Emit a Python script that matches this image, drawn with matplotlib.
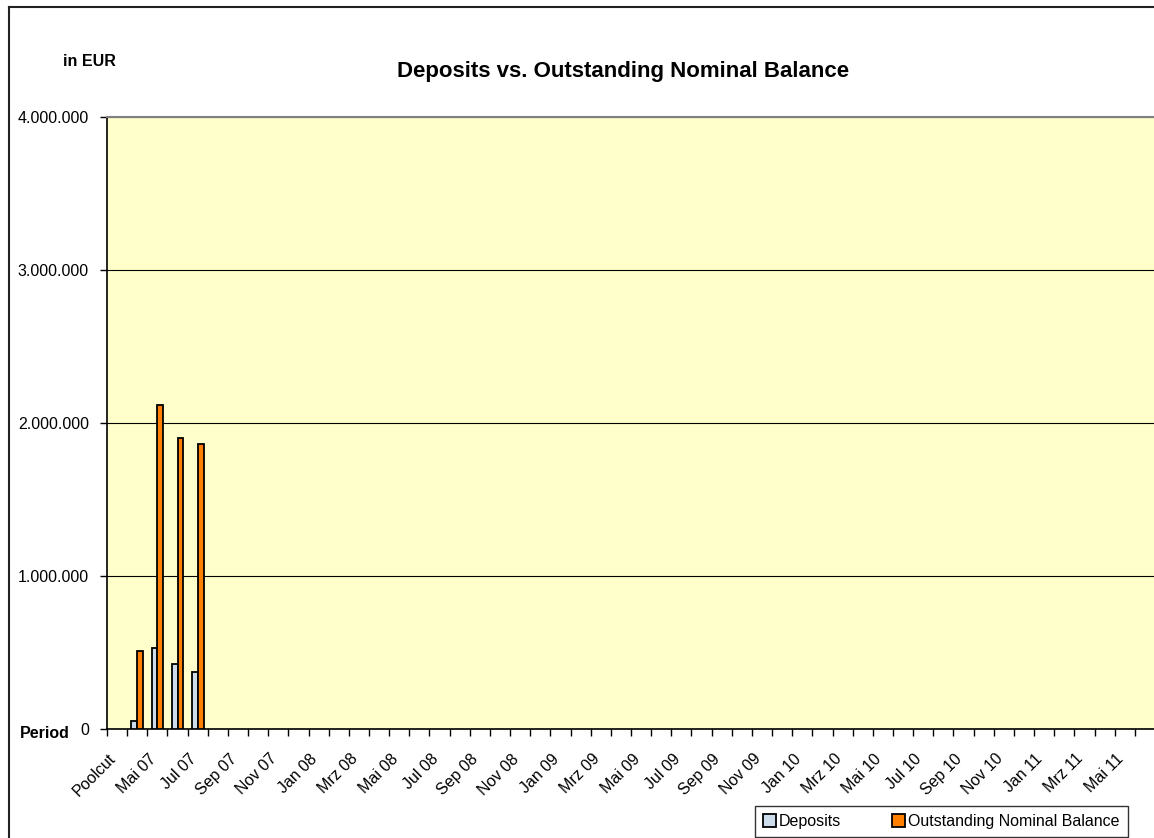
import matplotlib.pyplot as plt
import matplotlib.transforms as mtransforms
import numpy as np
from matplotlib.lines import Line2D
from matplotlib.ticker import FixedLocator, FuncFormatter

plt.rcParams['font.family'] = ['Liberation Sans', 'DejaVu Sans']

# Monthly periods: Poolcut, Apr 07 ... Jun 11
months = ['Jan', 'Feb', 'Mrz', 'Apr', 'Mai', 'Jun', 'Jul', 'Aug', 'Sep', 'Okt', 'Nov', 'Dez']
periods = ['Poolcut']
y, m = 7, 3
while len(periods) < 52:
    periods.append('%s %02d' % (months[m], y))
    m += 1
    if m == 12:
        m, y = 0, y + 1

deposits = [0, 54000, 532000, 424000, 373000]
balance = [0, 513000, 2115000, 1900000, 1866000]
deposits += [0] * (len(periods) - len(deposits))
balance += [0] * (len(periods) - len(balance))

fs = 11.5

fig = plt.figure(figsize=(11.54, 8.38), dpi=100)
ax = fig.add_axes([107 / 1154, 1 - 729 / 838, 1048 / 1154, (729 - 117) / 838])
ax.set_facecolor('#FFFFCC')

x = np.arange(len(periods))
w = 0.29
dep = np.array(deposits)
bal = np.array(balance)
mask = (dep > 0) | (bal > 0)
ax.bar(x[mask] - w / 2, dep[mask], w, color='#CCDCEA', edgecolor='black', linewidth=1.3,
       label='Deposits', zorder=3)
ax.bar(x[mask] + w / 2, bal[mask], w, color='#FF8000', edgecolor='black', linewidth=1.3,
       label='Outstanding Nominal Balance', zorder=3)

ax.set_xlim(-0.5, len(periods) - 0.5)
ax.set_ylim(0, 4000000)
ax.set_yticks([0, 1000000, 2000000, 3000000, 4000000])
ax.yaxis.set_major_formatter(FuncFormatter(lambda v, p: '{:,.0f}'.format(v).replace(',', '.')))
ax.grid(axis='y', color='black', linewidth=0.8, zorder=1)

# tick marks between categories, labels on every second category
ax.xaxis.set_major_locator(FixedLocator(np.arange(-0.5, len(periods), 1.0)))
ax.xaxis.set_major_formatter(FuncFormatter(lambda v, p: ''))
ax.xaxis.set_minor_locator(FixedLocator(x[::2]))
ax.set_xticklabels([periods[i] for i in x[::2]], minor=True, rotation=45, ha='right',
                   va='top', rotation_mode='anchor', fontsize=fs)
ax.tick_params(axis='x', which='minor', length=0, pad=16)
ax.tick_params(axis='x', which='major', length=5, width=1, direction='out')
ax.tick_params(axis='y', length=5, width=1, direction='out', labelsize=fs, pad=8)
shift = mtransforms.ScaledTranslation(-9 / 100, 0, fig.dpi_scale_trans)
for lab in ax.get_xticklabels(minor=True):
    lab.set_transform(lab.get_transform() + shift)

for s in ['left', 'bottom']:
    ax.spines[s].set_linewidth(1.2)
ax.spines['top'].set_color('#808080')
ax.spines['top'].set_linewidth(1.5)
ax.spines['right'].set_visible(False)

fig.text(623 / 1154, 1 - 72 / 838, 'Deposits vs. Outstanding Nominal Balance',
         ha='center', va='center', fontsize=16, fontweight='bold')
fig.text(63 / 1154, 1 - 62 / 838, 'in EUR', ha='left', va='center', fontsize=fs, fontweight='bold')
fig.text(20 / 1154, 1 - 733 / 838, 'Period', ha='left', va='center', fontsize=fs, fontweight='bold')

# outer chart frame
fig.add_artist(Line2D([8.5 / 1154, 8.5 / 1154], [0, 1 - 7.5 / 838], color='#222222', linewidth=1.5))
fig.add_artist(Line2D([8.5 / 1154, 1], [1 - 7.5 / 838, 1 - 7.5 / 838], color='#222222', linewidth=1.5))

leg = fig.legend(loc='lower left', bbox_to_anchor=(755 / 1154, 1 / 838), ncol=2, fontsize=fs,
                 frameon=True, fancybox=False, edgecolor='black', handlelength=0.8,
                 handleheight=0.8, handletextpad=0.2, columnspacing=3.2, borderpad=0.5,
                 borderaxespad=0)
leg.get_frame().set_linewidth(1.0)

fig.savefig('out.png', dpi=100)
